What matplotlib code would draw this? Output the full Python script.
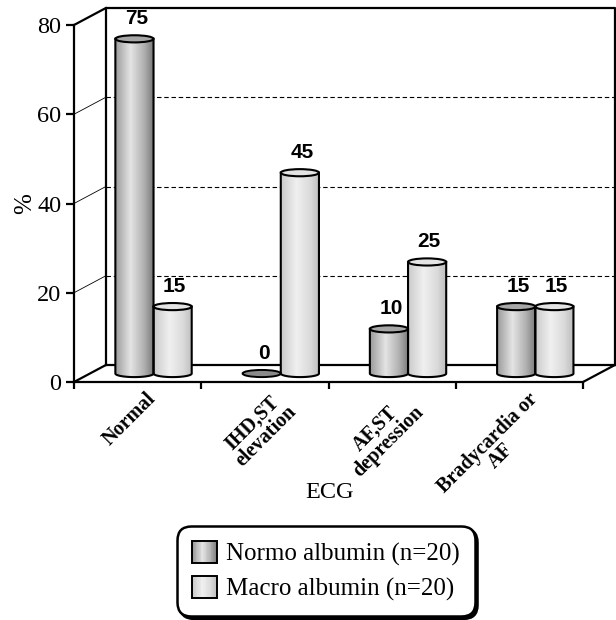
import numpy as np
import matplotlib
matplotlib.use("Agg")
import matplotlib.pyplot as plt
from matplotlib.patches import Ellipse, PathPatch, Rectangle, Patch
from matplotlib.path import Path
from matplotlib.transforms import ScaledTranslation
from matplotlib.legend_handler import HandlerBase

plt.rcParams['font.family'] = ['Liberation Serif', 'DejaVu Serif']

# ECG findings, % of patients in each group
categories = ["Normal", "IHD,ST\nelevation", "AF,ST\ndepression", "Bradycardia or\nAF"]
normo = [75, 0, 10, 15]
macro = [15, 45, 25, 15]
series_names = ["Normo albumin (n=20)", "Macro albumin (n=20)"]
yticks = [0, 20, 40, 60, 80]

# fake 3d: depth of the box in data units, bar width, ellipse height
DX, DY = 0.25, 3.8
BW = 0.30
EH = 1.6

normo_stops = [(0.0, '#9a9a9a'), (0.4, '#e4e4e4'), (0.75, '#b0b0b0'), (1.0, '#787878')]
macro_stops = [(0.0, '#cacaca'), (0.4, '#f0f0f0'), (0.75, '#dadada'), (1.0, '#bcbcbc')]
normo_top = '#a6a6a6'
macro_top = '#e4e4e4'


def gradient(stops, n=256):
    pos = [s[0] for s in stops]
    cols = np.array([matplotlib.colors.to_rgb(s[1]) for s in stops])
    t = np.linspace(0, 1, n)
    return np.stack([np.interp(t, pos, cols[:, k]) for k in range(3)], axis=-1)


def cylinder(ax, cx, value, stops, topcolor):
    bot = DY / 2
    top = value + DY / 2
    x0, x1 = cx - BW / 2, cx + BW / 2
    if value == 0:
        ax.add_patch(Ellipse((cx, bot), BW, EH, facecolor='#8a8a8a',
                             edgecolor='k', lw=1.4, zorder=5))
        return
    t = np.linspace(np.pi, 2 * np.pi, 40)
    verts = [(x0, top), (x0, bot)]
    verts += list(zip(cx + BW / 2 * np.cos(t), bot + EH / 2 * np.sin(t)))
    verts += [(x1, top), (x0, top)]
    codes = [Path.MOVETO] + [Path.LINETO] * (len(verts) - 2) + [Path.CLOSEPOLY]
    body = PathPatch(Path(verts, codes), facecolor='none', edgecolor='k',
                     lw=1.5, zorder=5)
    ax.add_patch(body)
    im = ax.imshow(gradient(stops)[None, :, :], extent=[x0, x1, bot - EH, top],
                   aspect='auto', interpolation='bilinear', zorder=4)
    im.set_clip_path(body)
    ax.add_patch(Ellipse((cx, top), BW, EH, facecolor=topcolor,
                         edgecolor='k', lw=1.5, zorder=6))


class GradientHandler(HandlerBase):
    def __init__(self, stops):
        super().__init__()
        self.stops = stops

    def create_artists(self, legend, orig_handle, xdescent, ydescent,
                       width, height, fontsize, trans):
        n = 30
        cols = gradient(self.stops, n)
        arts = []
        for k in range(n):
            arts.append(Rectangle((-xdescent + k * width / n, -ydescent),
                                  width / n * 1.1, height, facecolor=cols[k],
                                  edgecolor='none', transform=trans))
        arts.append(Rectangle((-xdescent, -ydescent), width, height, fill=False,
                              edgecolor='k', lw=1.4, transform=trans))
        return arts


fig = plt.figure(figsize=(6.16, 6.2), dpi=100)
ax = fig.add_axes([74 / 616, 238 / 620, 509 / 616, 357 / 620])
ax.set_xlim(0, len(categories))
ax.set_ylim(0, 80)

n = len(categories)
thick = dict(color='k', lw=1.6, clip_on=False, zorder=2, solid_capstyle='projecting')

# back wall and floor
ax.plot([DX, DX, n + DX, n + DX], [DY, 80 + DY, 80 + DY, DY], **thick)
ax.plot([DX, n + DX], [DY, DY], **thick)
ax.plot([0, DX], [0, DY], **thick)
ax.plot([0, DX], [80, 80 + DY], **thick)
ax.plot([n, n + DX], [0, DY], **thick)

# gridlines: thin on the side wall, dashed on the back wall
for v in yticks[1:-1]:
    ax.plot([0, DX], [v, v + DY], color='k', lw=0.6, clip_on=False, zorder=2)
    ax.plot([DX, n + DX], [v + DY, v + DY], color='k', lw=0.8,
            ls=(0, (4, 2.5)), clip_on=False, zorder=2)

for i in range(n):
    c = i + 0.5 + DX / 2
    cylinder(ax, c - BW / 2, normo[i], normo_stops, normo_top)
    cylinder(ax, c + BW / 2, macro[i], macro_stops, macro_top)

for i in range(n):
    c = i + 0.5 + DX / 2
    for cx, v in ((c - BW / 2, normo[i]), (c + BW / 2, macro[i])):
        ax.annotate(str(v), (cx, v + DY / 2), xytext=(2, 20),
                    textcoords='offset pixels', ha='center', va='center',
                    family='Liberation Sans', weight='bold', fontsize=15,
                    zorder=8)

ax.set_xlim(0, n)
ax.set_ylim(0, 80)

for s in ('top', 'right'):
    ax.spines[s].set_visible(False)
for s in ('left', 'bottom'):
    ax.spines[s].set_linewidth(1.6)
    ax.spines[s].set_zorder(3)

ax.set_yticks(yticks)
ax.set_xticks(np.arange(n + 1))
ax.tick_params(axis='y', direction='out', length=6, width=1.6, labelsize=17.5, pad=3)
ax.tick_params(axis='x', direction='out', length=5, width=1.6, labelbottom=False)

off = ScaledTranslation(8 / 100, -7 / 100, fig.dpi_scale_trans)
for i, lab in enumerate(categories):
    ax.text(i + 0.5, 0, lab, transform=ax.transData + off, rotation=45,
            rotation_mode='anchor', ha='right', va='top', multialignment='center',
            fontsize=14.5, weight='bold', linespacing=0.9)

ax.set_ylabel('%', fontsize=18, labelpad=1)
ax.set_xlabel('ECG', fontsize=17.5)
ax.xaxis.set_label_coords((330 - 74) / 509, -(492 - 382) / 357)
ax.xaxis.label.set_verticalalignment('center')

h1, h2 = Patch(), Patch()
leg = fig.legend([h1, h2], series_names, loc='center',
                 bbox_to_anchor=(326 / 616, 1 - 571 / 620),
                 handler_map={h1: GradientHandler(normo_stops),
                              h2: GradientHandler(macro_stops)},
                 fontsize=18, handlelength=1.0, handleheight=0.95,
                 handletextpad=0.35, labelspacing=0.42, borderpad=0.6,
                 fancybox=True, shadow={'color': 'k', 'alpha': 1.0})
frame = leg.get_frame()
frame.set_edgecolor('k')
frame.set_linewidth(1.8)
frame.set_facecolor('white')
frame.set_alpha(1.0)
frame.set_boxstyle('round,pad=0,rounding_size=0.55')

fig.savefig('out.png', dpi=100)
